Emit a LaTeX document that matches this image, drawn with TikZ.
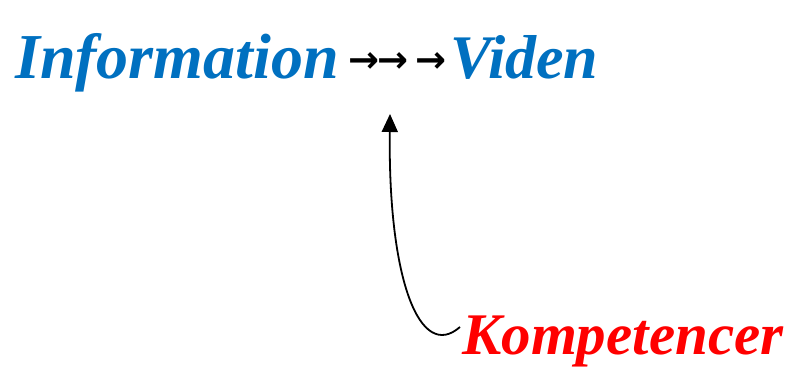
\documentclass[tikz,border=0pt]{standalone}
\usepackage{fontspec}
\setmainfont{Liberation Serif}
\newfontfamily\arrowfont{DejaVu Sans}
\usetikzlibrary{arrows.meta}
\definecolor{vidblue}{RGB}{0,112,192}
\definecolor{kompred}{RGB}{255,0,0}
\tikzset{word/.style={inner sep=0pt, font=\fontsize{62}{62}\selectfont\bfseries\itshape}}

\begin{document}
\begin{tikzpicture}[x=1pt,y=-1pt]
			\useasboundingbox (0,0) rectangle (792,372);
			\node[word, color=vidblue, anchor=base west, font=\fontsize{64}{64}\selectfont\bfseries\itshape] (info) at (15,78) {Information};
			\node[inner sep=0pt, font=\fontsize{37}{37}\selectfont\arrowfont\bfseries] (arrows) at (397,63) {→\kern-2pt→\kern7pt→};
			\node[word, color=vidblue, anchor=base west] (viden) at (450,78) {Viden};
			\node[word, color=kompred, anchor=base west, font=\fontsize{59}{59}\selectfont\bfseries\itshape] (komp) at (462,354) {Kompetencer};
			\draw[line width=1.8pt,-{Triangle[width=16pt,length=18pt]}] ([xshift=-2pt,yshift=14pt]komp.west) .. controls (420,362) and (388,280) .. ([xshift=-7pt,yshift=-51pt]arrows.center);
		\end{tikzpicture}
\end{document}
